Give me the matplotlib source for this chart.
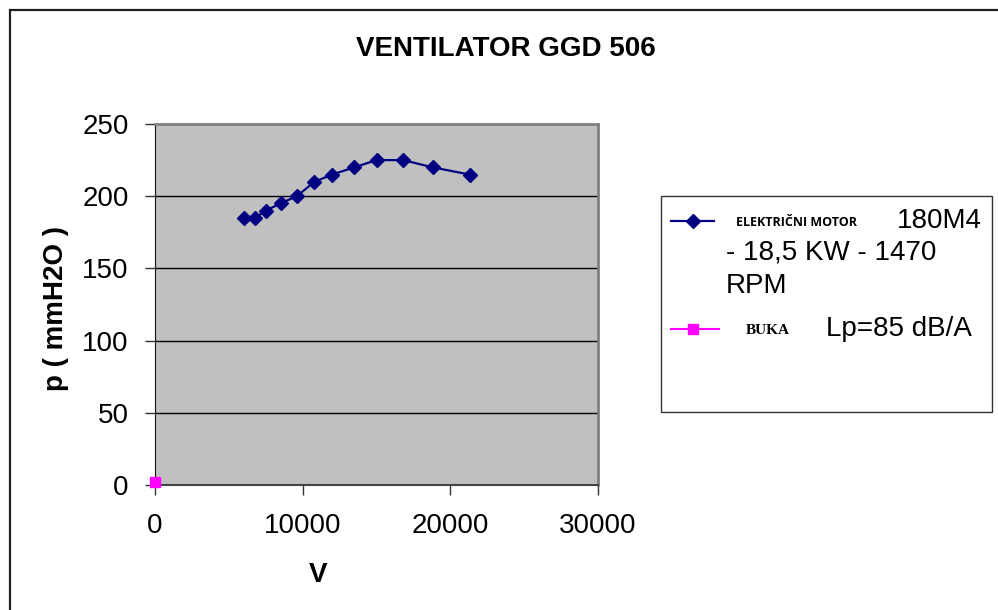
import matplotlib
matplotlib.use('Agg')
import numpy as np
from matplotlib import pyplot as plt
from matplotlib.patches import Rectangle
from matplotlib.lines import Line2D

plt.rcParams['font.family'] = ['Liberation Sans', 'DejaVu Sans']

# Data
motor_v = [6000, 6800, 7500, 8500, 9600, 10800, 12000, 13500, 15000, 16800, 18800, 21300]
motor_p = [185, 185, 190, 195, 200, 210, 215, 220, 225, 225, 220, 215]
buka_v = [0]
buka_p = [2]

title = 'VENTILATOR GGD 506'
x_ticks = [0, 10000, 20000, 30000]
y_ticks = [0, 50, 100, 150, 200, 250]

W, H = 998, 610
fig = plt.figure(figsize=(W / 100, H / 100), dpi=100)


def fx(px):
    return px / W


def fy(py):
    return 1 - py / H


# figure border
fig.add_artist(Rectangle((fx(10), fy(640)), fx(1040), 630 / H, transform=fig.transFigure,
                         fill=False, edgecolor='#222222', linewidth=1.6))

ax_left, ax_right = 155, 598
ax = fig.add_axes([fx(ax_left), fy(485), fx(ax_right) - fx(ax_left), fy(124) - fy(485)])
ax.set_facecolor('#c0c0c0')
ax.plot(motor_v, motor_p, color='#000080', linewidth=1.6, marker='D', markersize=7.5)
ax.plot(buka_v, buka_p, color='#ff00ff', linewidth=1.5, marker='s', markersize=7.5, clip_on=False,
        zorder=5)

ax.set_xlim(0, 30000)
ax.set_ylim(0, 250)
ax.set_xticks(x_ticks)
ax.set_yticks(y_ticks)
ax.grid(axis='y', color='black', linewidth=1)
ax.set_axisbelow(True)
ax.tick_params(axis='both', labelsize=20, direction='out', length=7, width=1, color='#333333')
ax.tick_params(axis='x', pad=13)
ax.tick_params(axis='y', pad=12)
for s in ['top', 'right']:
    ax.spines[s].set_color('#808080')
    ax.spines[s].set_linewidth(2)
ax.spines['left'].set_color('#111111')
ax.spines['bottom'].set_color('#444444')
ax.spines['bottom'].set_linewidth(1.5)

ax.set_xlabel('V', fontsize=20, fontweight='bold')
ax.xaxis.set_label_coords(0.367, -0.213)
ax.set_ylabel('p ( mmH2O )', fontsize=20, fontweight='bold')
ax.yaxis.set_label_coords((69 - ax_left) / (ax_right - ax_left), 0.49)

fig.text(fx(506), fy(49), title, ha='center', va='center', fontsize=20, fontweight='bold')

# legend drawn by hand
fig.add_artist(Rectangle((fx(661), fy(412)), fx(992) - fx(661), fy(196) - fy(412),
                         transform=fig.transFigure, facecolor='white', edgecolor='#333333',
                         linewidth=1))
fig.add_artist(Line2D([fx(671), fx(714)], [fy(221), fy(221)], transform=fig.transFigure,
                      color='#000080', linewidth=1.6))
fig.add_artist(Line2D([fx(693)], [fy(221)], transform=fig.transFigure, color='#000080',
                      marker='D', markersize=7.5))
fig.add_artist(Line2D([fx(671), fx(719)], [fy(329), fy(329)], transform=fig.transFigure,
                      color='#ff00ff', linewidth=1.5))
fig.add_artist(Line2D([fx(693)], [fy(329)], transform=fig.transFigure, color='#ff00ff',
                      marker='s', markersize=7.5))

fig.text(fx(736), fy(222), 'ELEKTRIČNI MOTOR', ha='left', va='center', fontsize=9,
         fontweight='bold', family=['Open Sans', 'DejaVu Sans'])
fig.text(fx(982), fy(221), '180M4', ha='right', va='center', fontsize=20)
fig.text(fx(726), fy(253), '- 18,5 KW - 1470', ha='left', va='center', fontsize=20)
fig.text(fx(726), fy(286), 'RPM', ha='left', va='center', fontsize=20)
fig.text(fx(746), fy(330), 'BUKA', ha='left', va='center', fontsize=11, fontweight='bold',
         family=['Liberation Serif', 'DejaVu Serif'])
fig.text(fx(826), fy(329), 'Lp=85 dB/A', ha='left', va='center', fontsize=20)

fig.savefig('out.png', dpi=100)
